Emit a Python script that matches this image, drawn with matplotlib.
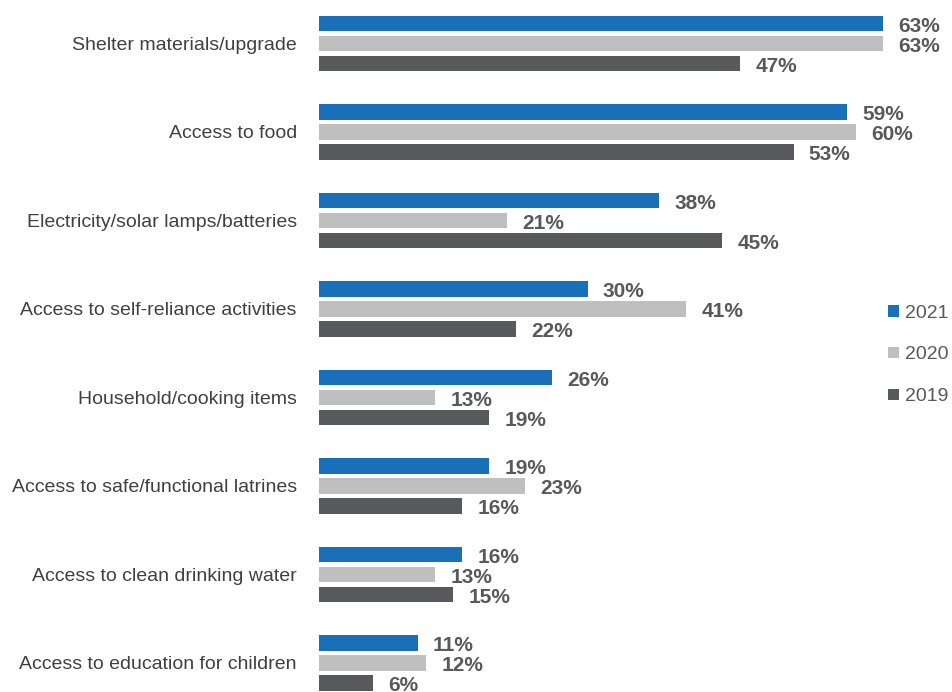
import matplotlib
matplotlib.use("Agg")
import matplotlib.pyplot as plt
from matplotlib.patches import Patch
from matplotlib import font_manager

categories = [
    "Shelter materials/upgrade",
    "Access to food",
    "Electricity/solar lamps/batteries",
    "Access to self-reliance activities",
    "Household/cooking items",
    "Access to safe/functional latrines",
    "Access to clean drinking water",
    "Access to education for children",
]
years = ["2021", "2020", "2019"]
values_2021 = [63, 59, 38, 30, 26, 19, 16, 11]
values_2020 = [63, 60, 21, 41, 13, 23, 13, 12]
values_2019 = [47, 53, 45, 22, 19, 16, 15, 6]
series = [values_2021, values_2020, values_2019]
colors = ["#1a70b8", "#bfbfbf", "#58595b"]

installed = {f.name for f in font_manager.fontManager.ttflist}
narrow = "Liberation Sans Narrow" if "Liberation Sans Narrow" in installed else "Liberation Sans"
plt.rcParams["font.family"] = [narrow, "DejaVu Sans"]

fig = plt.figure(figsize=(9.53, 6.92), dpi=100)
ax = fig.add_axes([319 / 953, 0, 634 / 953, 1])

offsets = [-0.226, 0.0, 0.226]
bar_h = 0.18
for vals, col, off, yr in zip(series, colors, offsets, years):
    ys = [i + off for i in range(len(categories))]
    ax.barh(ys, vals, height=bar_h, color=col, edgecolor="none", label=yr)
    for y, v in zip(ys, vals):
        ax.annotate(f"{v}%", (v, y), xytext=(11, -2), textcoords="offset points",
                    va="center", ha="left", fontsize=15, fontweight="bold",
                    color="#595959", annotation_clip=False)

ax.set_xlim(0, 70.8)
ax.set_ylim(7.328, -0.4915)
ax.set_yticks(range(len(categories)))
ax.set_yticklabels(categories, fontsize=14, color="#404040")
ax.tick_params(axis="y", length=0, pad=16)
ax.set_xticks([])
for s in ax.spines.values():
    s.set_visible(False)

handles = [Patch(facecolor=c, edgecolor="none") for c in colors]
fig.legend(handles, years, loc="center left", bbox_to_anchor=(888 / 953, 1 - 355 / 692),
           frameon=False, fontsize=14, handlelength=0.55, handleheight=0.55,
           handletextpad=0.3, labelspacing=1.28, borderpad=0, borderaxespad=0,
           labelcolor="#595959")

fig.savefig("out.png", dpi=100)
